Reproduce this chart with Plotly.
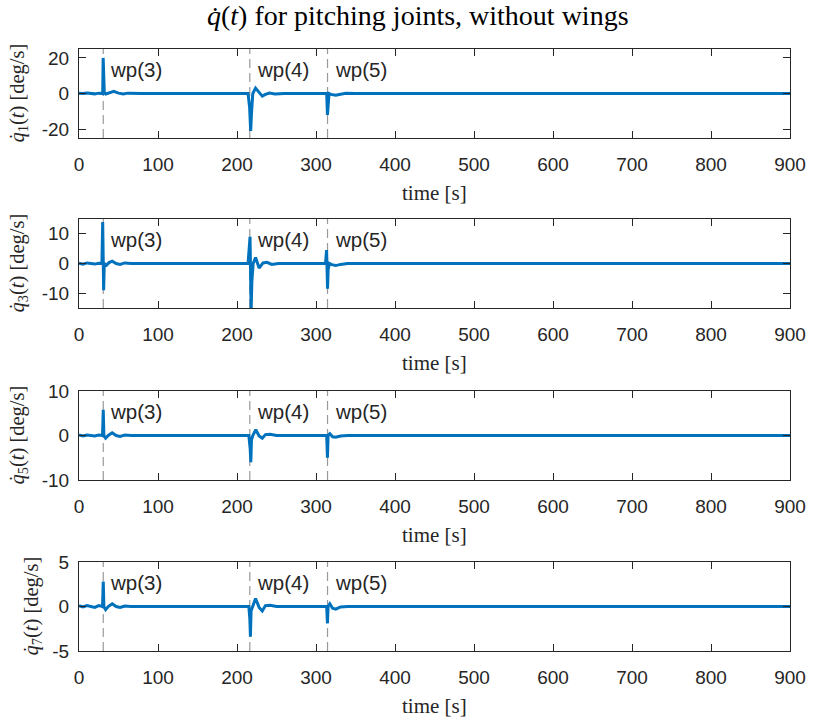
import plotly.graph_objects as go

# ---------------- data ----------------
t1 = [0, 5, 10, 15, 20, 25, 29, 30.0, 30.6, 31.3, 32, 34, 38, 44, 50, 56, 62, 70, 80, 100, 150,
      214, 216, 217.3, 218.5, 220, 223.5, 228, 232, 236, 241, 248, 260, 300,
      313.5, 314.5, 315.3, 316.5, 319, 325, 331, 338, 350, 400, 900]
q1 = [0.2, 0, 0.3, 0, -0.2, 0.2, 0, 0, 20, 12, 0.5, -0.3, 0.2, 1.2, 0.2, -0.3, 0.2, 0, 0, 0, 0,
      0, -8, -21, -10, 0, 3, 0.5, -1.5, -0.5, 0.3, -0.3, 0, 0,
      0, -12, -6, 0, -0.5, -1, -0.4, 0.1, 0, 0, 0]

t3 = [0, 5, 10, 15, 20, 25, 29, 30, 30.6, 31.2, 32, 35, 38, 42, 47, 52, 58, 66, 80, 150,
      214, 216.5, 217.2, 217.9, 218.8, 220.5, 223.5, 228, 233, 238, 244, 252, 270,
      312, 313.4, 314, 314.6, 315.4, 317, 320, 325, 331, 340, 360, 900]
q3 = [0.1, -0.2, 0.2, 0, -0.2, 0.1, 0, 14, 0, -9, 0, -0.5, 0.3, 0.8, 0, -0.3, 0.2, 0, 0, 0,
      0, 9, 0, -16, -6, 0, 2, -1.5, 0.2, 0.4, -0.3, 0, 0,
      0, 4.5, 0, -8.5, -2, 0, -0.4, -0.7, -0.3, 0, 0, 0]

t5 = [0, 5, 10, 15, 20, 25, 29.8, 30.7, 31.5, 33.7, 37, 42, 47, 52, 58, 66, 80, 150,
      215, 216.7, 217.5, 218.3, 220, 223.8, 228, 232, 236, 242, 250, 270,
      313.5, 314.5, 315.3, 317.5, 321, 325, 331, 340, 360, 900]
q5 = [0.1, -0.1, 0.1, 0, -0.1, 0.1, 0, 5.8, 0, -0.6, 0, 0.6, 0, -0.2, 0.1, 0, 0, 0,
      0, -3, -6, -1, 0, 1.3, -0.1, -0.6, 0.2, 0.3, 0, 0,
      0, -5, 0, 0.4, -0.3, -0.4, -0.1, 0, 0, 0]

t7 = [0, 5, 10, 15, 20, 25, 29.8, 30.7, 31.5, 33.7, 37, 42, 47, 52, 58, 66, 80, 150,
      215, 216.3, 217, 217.8, 219.5, 223.5, 228, 232, 236, 242, 250, 270,
      313.5, 314.5, 315.3, 317.5, 321, 325, 331, 340, 360, 900]
q7 = [0.1, -0.05, 0.1, 0, -0.1, 0.1, 0, 2.8, 0, -0.35, 0, 0.3, 0, -0.1, 0.05, 0, 0, 0,
      0, -1.5, -3.4, -0.5, 0, 0.9, -0.1, -0.5, 0.1, 0.15, 0, 0,
      0, -1.9, 0, 0.3, -0.2, -0.3, -0.05, 0, 0, 0]

wp_times = [30.7, 216.2, 314.6]
wp_labels = ["wp(3)", "wp(4)", "wp(5)"]

x_ticks = [0, 100, 200, 300, 400, 500, 600, 700, 800, 900]
x_ticktext = ["0", "100", "200", "300", "400", "500", "600", "700", "800", "900"]
series = [
    (t1, q1, "1", [-25, 25], [-20, 0, 20], ["-20", "0", "20"]),
    (t3, q3, "3", [-15, 15], [-10, 0, 10], ["-10", "0", "10"]),
    (t5, q5, "5", [-10, 10], [-10, 0, 10], ["-10", "0", "10"]),
    (t7, q7, "7", [-5, 5], [-5, 0, 5], ["-5", "0", "5"]),
]
title_text = "<i>q\u0307</i>(<i>t</i>) for pitching joints, without wings"
xlabel_text = "time [s]"

# ---------------- layout ----------------
W, H = 813, 719
X0, X1 = 79, 790
tops = [49, 219, 391, 562]
PH = 89
ylab_x = [18, 18, 18, 32]
AX = "#262626"
BLUE = "#0072BD"
SANS = "Liberation Sans, Arial, sans-serif"
SERIF = "Liberation Serif, Times New Roman, serif"

fig = go.Figure()
layout = dict(
    width=W, height=H, margin=dict(l=0, r=0, t=0, b=0, pad=0, autoexpand=False),
    plot_bgcolor="white", paper_bgcolor="white", showlegend=False,
    font=dict(family=SANS, size=19, color=AX),
)
shapes = []
annotations = []

for i, (t, q, idx, yr, yt, ytt) in enumerate(series):
    n = "" if i == 0 else str(i + 1)
    xa, ya = "x" + n, "y" + n
    fig.add_trace(go.Scatter(x=t, y=q, mode="lines", xaxis=xa, yaxis=ya,
                             line=dict(color=BLUE, width=3), hoverinfo="skip"))
    top = tops[i]
    bot = top + PH
    layout["xaxis" + n] = dict(
        domain=[X0 / W, X1 / W], range=[0, 900], anchor=ya, automargin=False,
        tickmode="array", tickvals=x_ticks, ticktext=x_ticktext,
        ticks="inside", ticklen=7,
        tickcolor=AX, showline=True, linecolor=AX, linewidth=1, mirror="ticks",
        showgrid=False, zeroline=False, ticklabelstandoff=9,
        tickfont=dict(family=SANS, size=19, color=AX),
    )
    layout["yaxis" + n] = dict(
        domain=[1 - bot / H, 1 - top / H], range=yr, anchor=xa, automargin=False,
        tickmode="array", tickvals=yt, ticktext=ytt, ticks="inside", ticklen=7,
        tickcolor=AX, showline=True, linecolor=AX, linewidth=1, mirror="ticks",
        showgrid=False, zeroline=False, ticklabelstandoff=5,
        tickfont=dict(family=SANS, size=19, color=AX),
    )
    for wt, wl in zip(wp_times, wp_labels):
        shapes.append(dict(type="line", xref=xa, yref=ya + " domain",
                           x0=wt, x1=wt, y0=0, y1=1, layer="below",
                           line=dict(color="#999999", width=1.2, dash="9px,5px")))
        annotations.append(dict(x=wt, xref=xa, y=1 - 20 / PH, yref=ya + " domain",
                                text=wl, showarrow=False, xanchor="left", yanchor="middle",
                                xshift=5, font=dict(family=SANS, size=20.5, color=AX)))
    # x label
    annotations.append(dict(x=(X0 + X1) / 2 / W, xref="paper", y=1 - (bot + 55) / H, yref="paper",
                            text=xlabel_text, showarrow=False, xanchor="center", yanchor="middle",
                            font=dict(family=SERIF, size=21, color=AX)))
    # y label
    annotations.append(dict(x=ylab_x[i] / W, xref="paper", y=0.5, yref=ya + " domain",
                            text="<i>q\u0307</i><sub>" + idx + "</sub>(<i>t</i>) [deg/s]",
                            textangle=-90, showarrow=False, xanchor="center", yanchor="middle",
                            font=dict(family=SERIF, size=20.5, color=AX)))

annotations.append(dict(x=418 / W, xref="paper", y=1 - 16 / H, yref="paper",
                        text=title_text, showarrow=False, xanchor="center", yanchor="middle",
                        font=dict(family=SERIF, size=28, color="#000000")))

layout["shapes"] = shapes
layout["annotations"] = annotations
fig.update_layout(**layout)
fig.write_html("out.html")
